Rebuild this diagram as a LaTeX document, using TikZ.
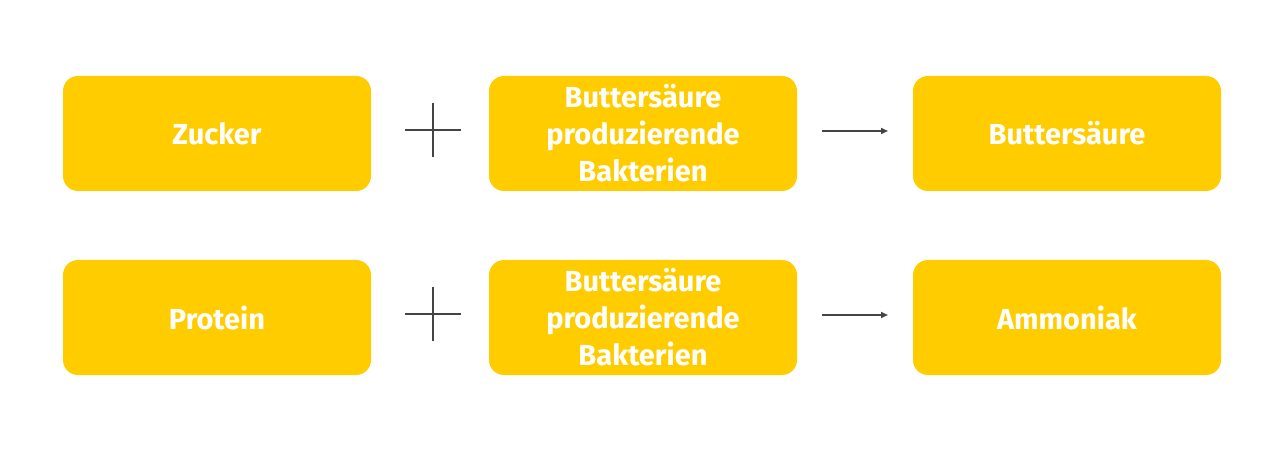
\documentclass[tikz,border=0pt]{standalone}
\usepackage{fontspec}
\setmainfont{Fira Sans}
\usetikzlibrary{arrows.meta}
\definecolor{boxyellow}{RGB}{255,204,0}
\definecolor{linegray}{RGB}{68,68,68}
\tikzset{
  boxnode/.style={fill=boxyellow, rounded corners=15pt, minimum width=308pt, minimum height=115pt, inner sep=0pt, text=white, font=\fontsize{29}{37}\selectfont\bfseries, align=center},
  plusline/.style={draw=linegray, line width=2pt},
  reactarrow/.style={draw=linegray, line width=2pt, -{Triangle[length=7pt,width=6pt]}}
}
\begin{document}
\begin{tikzpicture}[x=1pt,y=1pt,yscale=-1,xscale=1]
\useasboundingbox (0,0) rectangle (1280,454);

%Row 1
\node [boxnode] (zucker) at (217,133.5) {Zucker};
\node [boxnode] (bakt1) at (643,133.5) {Buttersäure\\produzierende\\Bakterien};
\node [boxnode] (butter) at (1067,133.5) {Buttersäure};
%Row 2
\node [boxnode] (protein) at (217,317.5) {Protein};
\node [boxnode] (bakt2) at (643,317.5) {Buttersäure\\produzierende\\Bakterien};
\node [boxnode] (ammon) at (1067,317.5) {Ammoniak};

%Plus signs
\coordinate (p1) at (433,130);
\coordinate (p2) at (433,314);
\draw [plusline] ([xshift=-28pt]p1) -- ([xshift=28pt]p1);
\draw [plusline] ([yshift=-27pt]p1) -- ([yshift=27pt]p1);
\draw [plusline] ([xshift=-28pt]p2) -- ([xshift=28pt]p2);
\draw [plusline] ([yshift=-27pt]p2) -- ([yshift=27pt]p2);

%Arrows
\coordinate (a1) at (822,131);
\coordinate (b1) at (888,131);
\coordinate (a2) at (822,315);
\coordinate (b2) at (888,315);
\draw [reactarrow] (a1) -- (b1);
\draw [reactarrow] (a2) -- (b2);

\end{tikzpicture}
\end{document}
